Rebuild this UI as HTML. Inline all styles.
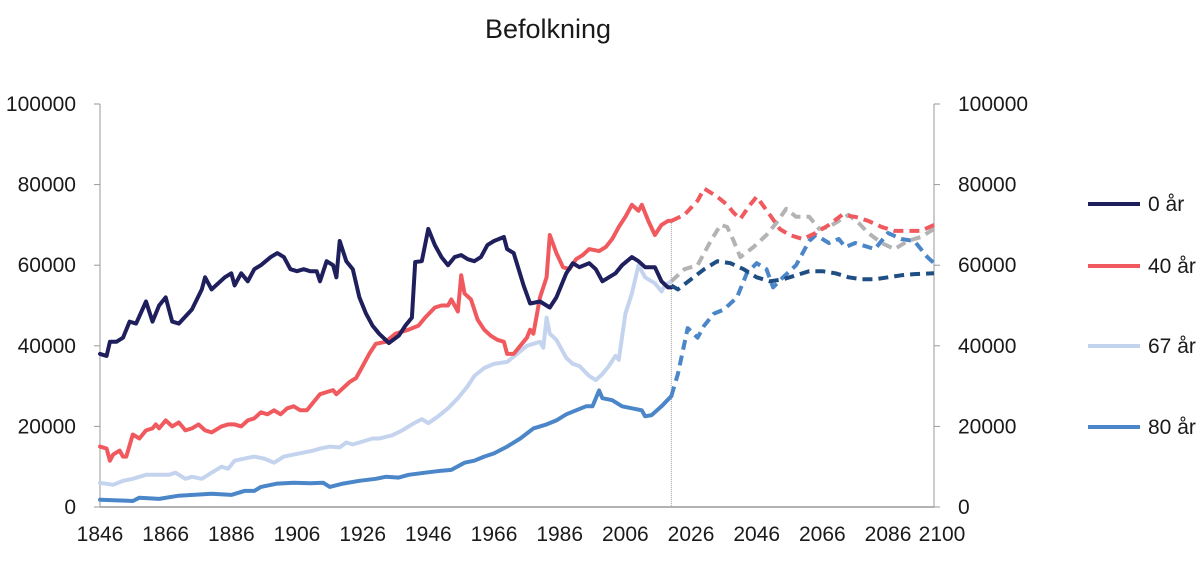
<!DOCTYPE html>
<html><head><meta charset="utf-8"><style>
body{margin:0;background:#fff;font-family:"Liberation Sans","DejaVu Sans",sans-serif}
svg text{font-family:"Liberation Sans","DejaVu Sans",sans-serif;fill:#1a1a1a}
</style></head><body>
<svg id="c" width="1200" height="561">
<text x="548" y="38" font-size="27" text-anchor="middle">Befolkning</text>
<g id="axes"></g><g id="lines"></g><g id="legend"></g>
</svg>
<script>
const yTicks=[0,20000,40000,60000,80000,100000];
const xTicks=[1846,1866,1886,1906,1926,1946,1966,1986,2006,2026,2046,2066,2086,2100];
const seriesNames=["0 år","40 år","67 år","80 år"];
const histYears0=[1846,1848,1849,1851,1853,1855,1857,1860,1862,1864,1866,1868,1870,1874,1877,1878,1880,1884,1886,1887,1889,1891,1893,1895,1898,1900,1902,1904,1906,1908,1910,1912,1913,1915,1917,1918,1919,1921,1923,1925,1927,1929,1931,1934,1937,1939,1941,1942,1944,1946,1948,1950,1952,1954,1956,1958,1960,1962,1964,1966,1969,1970,1972,1975,1977,1980,1983,1985,1988,1990,1992,1995,1997,1999,2001,2003,2005,2008,2010,2012,2015,2017,2019,2020];
const histVals0=[38000,37500,41000,41000,42000,46000,45500,51000,46000,50000,52000,46000,45500,49000,54000,57000,54000,57000,58000,55000,58000,56000,59000,60000,62000,63000,62000,59000,58500,59000,58500,58500,56000,61000,60000,57000,66000,61000,59000,52000,48000,45000,43000,40700,42500,45000,47000,60800,61000,69000,65000,62000,60000,62000,62500,61500,61000,62000,65000,66000,67000,64000,63000,55000,50500,51000,49500,52000,58000,60500,59500,60500,59000,56000,57000,58000,60000,62000,61000,59500,59500,56000,54500,54500];
const projYears0=[2020,2022,2026,2030,2034,2038,2042,2046,2050,2054,2058,2062,2066,2070,2074,2078,2082,2086,2090,2094,2100];
const projVals0=[55000,54000,56500,59000,61000,60500,59000,57000,56000,56500,57500,58500,58500,58000,57000,56500,56500,57000,57500,57800,58000];
const histYears40=[1846,1848,1849,1850,1852,1853,1854,1856,1858,1860,1862,1863,1864,1866,1868,1870,1872,1874,1876,1878,1880,1883,1885,1887,1889,1891,1893,1895,1897,1899,1901,1903,1905,1907,1909,1911,1913,1915,1917,1918,1920,1922,1924,1926,1928,1930,1933,1936,1940,1943,1945,1948,1950,1952,1953,1955,1956,1957,1959,1961,1963,1965,1967,1969,1970,1972,1974,1976,1977,1978,1980,1982,1983,1985,1987,1989,1991,1993,1995,1998,2000,2002,2004,2006,2008,2010,2011,2013,2015,2017,2019,2020];
const histVals40=[15000,14500,11500,13000,14000,12500,12500,18000,17000,19000,19500,20500,19500,21500,20000,21000,19000,19500,20500,19000,18500,20000,20500,20500,20000,21500,22000,23500,23000,24000,23000,24500,25000,24000,24000,26000,28000,28500,29000,28000,29500,31000,32000,35000,38000,40500,41000,43000,44000,45000,47000,49500,50000,50000,51500,48500,57500,53000,51500,46500,44000,42500,41500,41000,38000,38000,40000,42000,44000,43000,52000,57000,67500,63000,59500,59000,61500,62500,64000,63500,64500,66500,69500,72000,75000,73500,75000,71000,67500,70000,71000,71000];
const projYears40=[2020,2024,2028,2030,2034,2037,2039,2041,2044,2046,2050,2053,2056,2060,2064,2068,2072,2076,2080,2084,2088,2092,2096,2100];
const projVals40=[71000,72500,76000,79000,77000,75000,73000,71500,75000,77000,72500,69000,67500,66500,68000,70000,72500,72000,71000,69500,68500,68500,68500,70000];
const histYears67=[1846,1850,1853,1856,1860,1864,1867,1869,1872,1874,1877,1880,1883,1885,1887,1890,1893,1896,1899,1902,1905,1908,1911,1913,1916,1919,1921,1923,1925,1927,1929,1931,1933,1935,1938,1941,1944,1946,1949,1952,1955,1958,1960,1963,1966,1970,1973,1976,1978,1980,1981,1982,1983,1985,1988,1990,1992,1995,1997,1999,2001,2003,2004,2006,2008,2010,2012,2015,2017,2018,2020];
const histVals67=[6000,5500,6500,7000,8000,8000,8000,8500,7000,7500,7000,8500,10000,9500,11500,12000,12500,12000,11000,12500,13000,13500,14000,14500,15000,14800,16000,15500,16000,16500,17000,17000,17400,17800,19000,20500,21800,20800,22500,24500,27000,30000,32500,34500,35500,36000,38000,40000,40500,41000,39500,47000,43000,41500,37000,35500,35000,32500,31500,33000,35000,37500,36500,48000,53000,60000,57000,55500,53500,55000,56000];
const projYears67=[2020,2024,2028,2032,2035,2037,2039,2041,2045,2049,2052,2055,2058,2062,2065,2068,2072,2074,2077,2080,2084,2088,2092,2096,2100];
const projVals67=[56000,59000,60000,66000,70000,69500,66000,62000,64500,67500,70500,74000,72000,72000,69000,69500,71500,72500,70500,68000,65500,64000,66000,67000,69000];
const histYears80=[1846,1856,1858,1864,1870,1880,1886,1890,1893,1895,1900,1905,1910,1914,1916,1920,1925,1930,1933,1937,1940,1945,1950,1953,1957,1960,1963,1966,1970,1974,1978,1982,1985,1988,1991,1994,1996,1998,1999,2002,2005,2008,2011,2012,2014,2017,2020];
const histVals80=[1800,1500,2300,2000,2800,3300,3000,4000,4000,5000,5800,6000,5900,6000,5000,5800,6500,7000,7500,7300,8000,8500,9000,9200,11000,11500,12500,13300,15000,17000,19500,20500,21500,23000,24000,25000,25000,28900,27000,26500,25000,24500,24000,22500,22800,25000,27500];
const projYears80=[2020,2022,2025,2028,2030,2033,2036,2040,2043,2046,2049,2051,2054,2058,2062,2064,2068,2071,2073,2076,2078,2082,2086,2090,2094,2098,2100];
const projVals80=[27500,33000,44400,42000,45000,48000,49000,52000,58000,60500,59000,54500,57000,60000,66000,67500,65500,66500,64500,65500,65000,64000,68000,66500,66000,62000,60500];

const X0=100,X1=934,Y0=507,Y1=104;
const xs=y=>X0+(y-1846)/(2100-1846)*(X1-X0);
const ys=v=>Y0-v/100000*(Y0-Y1);
const NS="http://www.w3.org/2000/svg";
function mk(tag,attrs,parent){const e=document.createElementNS(NS,tag);for(const k in attrs)e.setAttribute(k,attrs[k]);parent.appendChild(e);return e;}
const axes=document.getElementById('axes');
let e;
e=mk('line',{x1:X0,y1:Y1,x2:X0,y2:Y0,stroke:'#999','stroke-width':1},axes);


e=mk('line',{x1:X1,y1:Y1,x2:X1,y2:Y0,stroke:'#999','stroke-width':1},axes);


e=mk('line',{x1:X0,y1:Y0,x2:X1,y2:Y0,stroke:'#999','stroke-width':1.5},axes);


e=mk('line',{x1:xs(2020),y1:ys(71000),x2:xs(2020),y2:Y0,stroke:'#999','stroke-width':1,'stroke-dasharray':'1,1'},axes);


yTicks.forEach(v=>{
  mk('line',{x1:X0-6,y1:ys(v),x2:X0,y2:ys(v),stroke:'#999'},axes);
  mk('line',{x1:X1,y1:ys(v),x2:X1+6,y2:ys(v),stroke:'#999'},axes);
  e=mk('text',{x:X0-24,y:ys(v)+7,'font-size':21,'text-anchor':'end'},axes);e.textContent=v;
  
  
  e=mk('text',{x:X1+24,y:ys(v)+7,'font-size':21,'text-anchor':'start'},axes);e.textContent=v;
  
  
});
xTicks.forEach(y=>{
  const cx=y===2100?xs(y)+8:xs(y);
  e=mk('text',{x:cx,y:541,'font-size':21,'text-anchor':'middle'},axes);e.textContent=y;
  
  
});
const lines=document.getElementById('lines');
function path(yrs,vals){return yrs.map((y,i)=>(i?'L':'M')+xs(y).toFixed(1)+','+ys(vals[i]).toFixed(1)).join('');}
function draw(yrs,vals,color,dashed,name){
  const p=mk('path',{d:path(yrs,vals),fill:'none',stroke:color,'stroke-width':4,'stroke-linejoin':'round','stroke-linecap':dashed?'butt':'round'},lines);
  if(dashed)p.setAttribute('stroke-dasharray','10,6');
  
  
}
draw(histYears80,histVals80,'#4a86c8',false,'line-80-historical');
draw(histYears67,histVals67,'#c5d4ee',false,'line-67-historical');
draw(histYears40,histVals40,'#f05a5f',false,'line-40-historical');
draw(histYears0,histVals0,'#1e1f5c',false,'line-0-historical');
draw(projYears80,projVals80,'#4a86c8',true,'line-80-projection');
draw(projYears67,projVals67,'#b3b3b3',true,'line-67-projection');
draw(projYears40,projVals40,'#f05a5f',true,'line-40-projection');
draw(projYears0,projVals0,'#1f4e85',true,'line-0-projection');
const leg=document.getElementById('legend');
const legColors=['#1e1f5c','#f05a5f','#c5d4ee','#4a86c8'];
const legY=[204,266,346,427];
seriesNames.forEach((n,i)=>{
  const g=mk('g',{},leg);
  
  
  mk('line',{x1:1088,y1:legY[i],x2:1140,y2:legY[i],stroke:legColors[i],'stroke-width':4},g);
  const t=mk('text',{x:1148,y:legY[i]+7,'font-size':21},g);t.textContent=n;
});
</script>
</body></html>
